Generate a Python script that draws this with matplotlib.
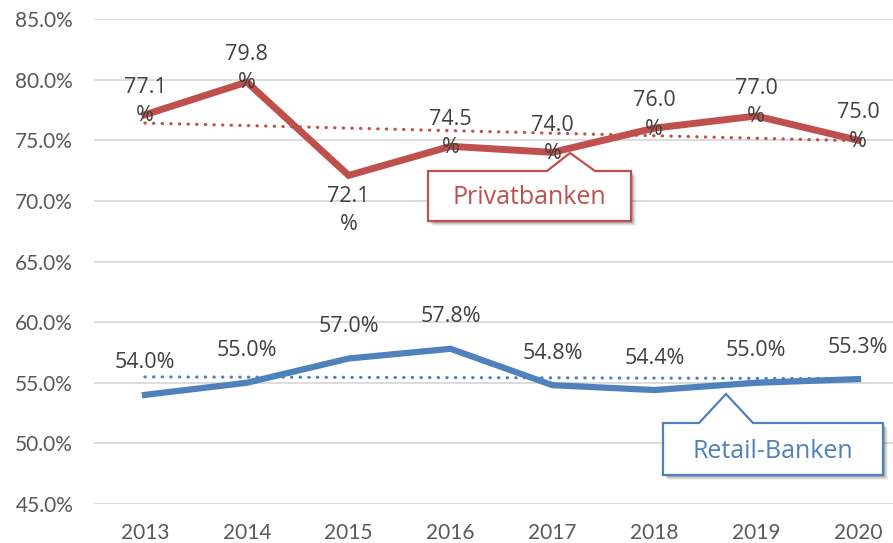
import numpy as np
import matplotlib
matplotlib.use('Agg')
import matplotlib.pyplot as plt
from matplotlib.patches import Polygon

# Werte
jahre = ['2013', '2014', '2015', '2016', '2017', '2018', '2019', '2020']
privatbanken = [77.1, 79.8, 72.1, 74.5, 74.0, 76.0, 77.0, 75.0]
retail_banken = [54.0, 55.0, 57.0, 57.8, 54.8, 54.4, 55.0, 55.3]
y_ticks = [45, 50, 55, 60, 65, 70, 75, 80, 85]

ROT = '#C0504D'
BLAU = '#4F81BD'
TEXT = '#404040'
W, H = 893, 543

fig = plt.figure(figsize=(W / 100, H / 100), dpi=100)
ax = fig.add_axes([94 / W, 1 - 504 / H, (909 - 94) / W, (504 - 19) / H])

x = np.arange(len(jahre))

# Trendlinien (lineare Regression)
for werte, farbe in [(privatbanken, ROT), (retail_banken, BLAU)]:
    k, d = np.polyfit(x, werte, 1)
    ax.plot(x, k * x + d, color=farbe, lw=2.3, linestyle=(0, (0.1, 2.6)),
            dash_capstyle='round', zorder=2)

ax.plot(x, privatbanken, color=ROT, lw=5, solid_joinstyle='miter', zorder=3)
ax.plot(x, retail_banken, color=BLAU, lw=4.5, solid_joinstyle='miter', zorder=3)

# Datenbeschriftungen
for i, v in enumerate(privatbanken):
    dy = -25 if v == min(privatbanken) else 9.5
    ax.annotate(f'{v:.1f}\n%', (x[i], v), xytext=(0, dy), textcoords='offset points',
                ha='center', va='center', fontsize=15.5, color=TEXT,
                family='Open Sans', linespacing=1.45, zorder=4)
for i, v in enumerate(retail_banken):
    ax.annotate(f'{v:.1f}%', (x[i], v), xytext=(0, 23), textcoords='offset points',
                ha='center', va='center', fontsize=15.5, color=TEXT,
                family='Open Sans', zorder=4)

ax.set_xlim(-0.5, len(jahre) - 0.5)
ax.set_ylim(45, 85)
ax.set_yticks(y_ticks)
ax.set_yticklabels([f'{t:.1f}%' for t in y_ticks])
ax.set_xticks(x)
ax.set_xticklabels(jahre)
ax.grid(axis='y', color='#D9D9D9', lw=1.3)
ax.set_axisbelow(True)
for s in ax.spines.values():
    s.set_visible(False)
ax.tick_params(length=0, labelsize=15, labelcolor='#595959')
ax.tick_params(axis='y', pad=15)
ax.tick_params(axis='x', pad=14)
for lab in ax.get_xticklabels() + ax.get_yticklabels():
    lab.set_family('Lato')


def px(p):
    return (p[0] / W, 1 - p[1] / H)


def legende(x0, y0, x1, y1, b0, b1, tip, farbe, text):
    pts = [(x0, y0), (b0, y0), tip, (b1, y0), (x1, y0), (x1, y1), (x0, y1)]
    # weicher Schatten
    for i, a in enumerate([0.06, 0.08, 0.1, 0.12]):
        off = 5 - i
        sh = [(p[0] + off, p[1] + off) for p in pts]
        fig.add_artist(Polygon([px(p) for p in sh], closed=True, facecolor='#000000',
                               edgecolor='none', alpha=a, transform=fig.transFigure,
                               zorder=5))
    fig.add_artist(Polygon([px(p) for p in pts], closed=True, facecolor='white',
                           edgecolor=farbe, lw=1.6, joinstyle='miter',
                           transform=fig.transFigure, zorder=6))
    cx, cy = px(((x0 + x1) / 2, (y0 + y1) / 2 + 2))
    fig.text(cx, cy, text, ha='center', va='center', fontsize=18, color=farbe,
             family='Open Sans', zorder=7)


legende(428, 171, 631, 221, 547, 595, (570, 153), ROT, 'Privatbanken')
legende(663, 423, 883, 475, 699, 753, (726, 394), BLAU, 'Retail-Banken')

fig.savefig('out.png', dpi=100)
